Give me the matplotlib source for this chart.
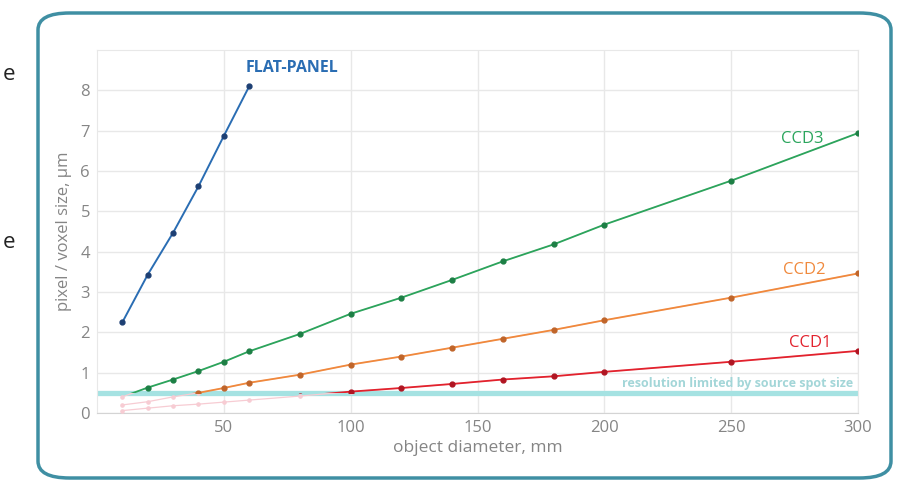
import matplotlib
matplotlib.use("Agg")
import matplotlib.pyplot as plt
from matplotlib.patches import FancyBboxPatch, Rectangle

plt.rcParams['font.family'] = ['Open Sans', 'DejaVu Sans']

# dados
flat_x = [10, 20, 30, 40, 50, 60]
flat_y = [2.25, 3.43, 4.47, 5.62, 6.87, 8.1]

ccd3_x = [10, 20, 30, 40, 50, 60, 80, 100, 120, 140, 160, 180, 200, 250, 300]
ccd3_y = [0.4, 0.63, 0.83, 1.04, 1.27, 1.53, 1.96, 2.46, 2.86, 3.3, 3.76, 4.18, 4.67, 5.76, 6.94]

ccd2_x = [10, 20, 30, 40, 50, 60, 80, 100, 120, 140, 160, 180, 200, 250, 300]
ccd2_y = [0.2, 0.28, 0.4, 0.5, 0.62, 0.75, 0.95, 1.2, 1.4, 1.62, 1.84, 2.06, 2.3, 2.86, 3.46]

ccd1_x = [10, 20, 30, 40, 50, 60, 80, 100, 120, 140, 160, 180, 200, 250, 300]
ccd1_y = [0.06, 0.12, 0.18, 0.22, 0.27, 0.32, 0.42, 0.53, 0.62, 0.72, 0.83, 0.91, 1.02, 1.27, 1.54]

spot_limit = 0.5
x_ticks = [50, 100, 150, 200, 250, 300]
y_ticks = [0, 1, 2, 3, 4, 5, 6, 7, 8]

fig = plt.figure(figsize=(9.04, 4.82), dpi=100)

# moldura arredondada
frame = FancyBboxPatch((38 / 904, 1 - 478 / 482), (891 - 38) / 904, (478 - 13) / 482,
                       boxstyle="round,pad=0,rounding_size=0.035",
                       transform=fig.transFigure, facecolor="white",
                       edgecolor="#3f8fa3", linewidth=2.5, zorder=-10)
fig.patches.append(frame)

fig.text(3 / 904, 1 - 75 / 482, "e", fontsize=16, color="#222222", va="center")
fig.text(3 / 904, 1 - 242 / 482, "e", fontsize=16, color="#222222", va="center")

ax = fig.add_axes([97 / 904, 1 - 413 / 482, (858 - 97) / 904, (413 - 50) / 482])
ax.set_facecolor("none")
ax.set_xlim(0, 300)
ax.set_ylim(0, 9)
ax.set_xticks(x_ticks)
ax.set_yticks(y_ticks)
ax.set_axisbelow(True)
ax.grid(True, color="#e8e8e8", lw=1)
for s in ax.spines.values():
    s.set_color("#e8e8e8")
ax.spines["bottom"].set_color("#d4d4d4")
ax.tick_params(length=0, labelsize=12, colors="#858585", pad=5)

# faixa de resolução
ax.axhline(spot_limit, color="#a5e2e2", lw=3.8, zorder=2)
ax.text(298, spot_limit + 0.22, "resolution limited by source spot size",
        ha="right", va="center", fontsize=9, color="#a3d6d8", fontweight="bold", zorder=3)

faded = "#f7ccd3"
series = [
    (ccd3_x, ccd3_y, "#2aa55c", "#1d7f45"),
    (ccd2_x, ccd2_y, "#f0893c", "#c0652a"),
    (ccd1_x, ccd1_y, "#e2222d", "#b01522"),
]
for xs, ys, c, mc in series:
    ax.plot(xs, ys, color=faded, lw=0.9, marker="o", ms=2.3, zorder=3)
    line, = ax.plot(xs, ys, color=c, lw=1.3, marker="o", ms=3.5,
                    markerfacecolor=mc, markeredgecolor=mc, zorder=4)
    clip = Rectangle((0, spot_limit), 300, 9, transform=ax.transData)
    line.set_clip_path(clip)

ax.plot(flat_x, flat_y, color="#2a6db3", lw=1.4, marker="o", ms=3.5,
        markerfacecolor="#1d3f73", markeredgecolor="#1d3f73", zorder=4)

ax.text(58.5, 8.55, "FLAT-PANEL", color="#2a6db3", fontsize=11.5, fontweight="bold", va="center")
ax.text(278, 6.8, "CCD3", color="#2aa55c", fontsize=12, ha="center", va="center")
ax.text(279, 3.55, "CCD2", color="#f0893c", fontsize=12, ha="center", va="center")
ax.text(281, 1.73, "CCD1", color="#e2222d", fontsize=12, ha="center", va="center")

ax.set_xlabel("object diameter, mm", fontsize=12.5, color="#858585", labelpad=3)
ax.set_ylabel("pixel / voxel size, µm", fontsize=12, color="#858585", labelpad=6)

fig.savefig("out.png", dpi=100)
